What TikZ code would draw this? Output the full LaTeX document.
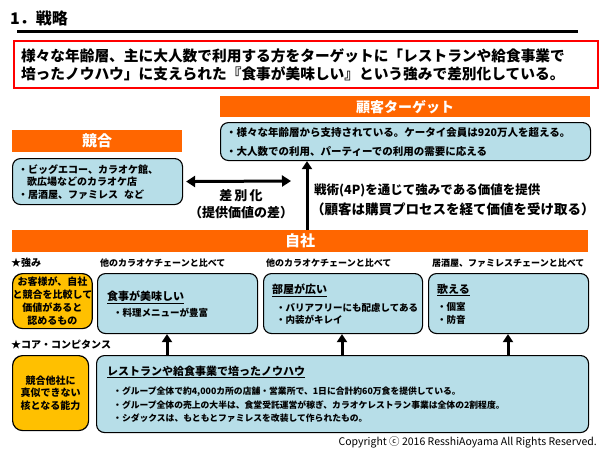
\documentclass[tikz,border=0pt]{standalone}
\usepackage{fontspec}
\setmainfont{Noto Sans CJK JP}
\usetikzlibrary{positioning,arrows.meta}
\definecolor{barorange}{HTML}{FF6600}
\definecolor{boxblue}{HTML}{B7DEE8}
\definecolor{boxyellow}{HTML}{FFC000}
\newcommand{\fs}[2]{\fontsize{#1}{#2}\selectfont}

\begin{document}
\begin{tikzpicture}[x=1pt, y=-1pt,
  every node/.style={inner sep=0pt, text=black},
  bar/.style={fill=barorange, anchor=north west, text=white, font=\fs{15}{18}\bfseries},
  infobox/.style={draw, line width=1.1pt, fill=boxblue, rounded corners=8pt, anchor=north west},
  keybox/.style={draw, line width=1.2pt, fill=boxyellow, rounded corners=10pt, anchor=north west, minimum width=76, align=center},
  item/.style={anchor=west, font=\fs{9.5}{12}\bfseries},
  head/.style={anchor=west, font=\fs{11}{13}\bfseries},
  tag/.style={anchor=west, font=\fs{9}{11}\bfseries},
  upline/.style={line width=3pt, -{Triangle[length=8pt,width=10pt]}},
  bothline/.style={line width=3pt, {Triangle[length=9pt,width=11pt]}-{Triangle[length=9pt,width=11pt]}}
]
\useasboundingbox (0,0) rectangle (600,450);

\node[anchor=west, font=\fs{16}{18}\bfseries] (title) at (10,18) {1．戦略};
\draw[line width=3pt] (17,31) -- (578,31);

\node[draw=red, line width=2pt, anchor=north west, minimum height=47, text width=570, inner xsep=7, align=left, font=\fs{14.7}{18}\bfseries] (lead) at (13,40)
  {様々な年齢層、主に大人数で利用する方をターゲットに「レストランや給食事業で\\培ったノウハウ」に支えられた『食事が美味しい』という強みで差別化している。};

\node[bar, minimum width=370, minimum height=21, font=\fs{14}{16}\bfseries] (tgtbar) at (220,96) {顧客ターゲット};
\node[infobox, minimum width=370, minimum height=38] (tgt) at (220,122) {};
\node[item, font=\fs{10.5}{12}\bfseries] (tgt1) at (226,133) {・様々な年齢層から支持されている。ケータイ会員は920万人を超える。};
\node[item, font=\fs{10.5}{12}\bfseries] (tgt2) at (226,152) {・大人数での利用、パーティーでの利用の需要に応える};

\node[bar, minimum width=170, minimum height=22] (compbar) at (12,130) {競合};
\node[infobox, minimum width=170, minimum height=46] (comp) at (12,158) {};
\node[item, font=\fs{10}{12}\bfseries] (comp1) at (18,170) {・ビッグエコー、カラオケ館、};
\node[item, font=\fs{10}{12}\bfseries] (comp2) at (27,182) {歌広場などのカラオケ店};
\node[item, font=\fs{10}{12}\bfseries] (comp3) at (18,195) {・居酒屋、ファミレス\hspace{0.6em}など};

\coordinate (diffR) at (291,181);
\draw[bothline] ([xshift=3pt]comp.east) -- (diffR);
\node[font=\fs{13}{15}\bfseries] (diff1) at (241,196) {差\,別\,化};
\node[font=\fs{13}{15}\bfseries] (diff2) at (241,213) {（提供価値の差）};

\node[bar, minimum width=576, minimum height=22] (jisha) at (12,230) {自社};

\coordinate (tac) at (307,0);
\draw[upline] (jisha.north -| tac) -- (tgt.south -| tac);
\node[anchor=west, font=\fs{12.5}{15}\bfseries] (tac1) at (314,190) {戦術(4P)を通じて強みである価値を提供};
\node[anchor=west, font=\fs{13.5}{15}\bfseries] (tac2) at (311,209) {（顧客は購買プロセスを経て価値を受け取る）};

\node[anchor=west, font=\fs{10}{12}\bfseries] (strtag) at (11,263) {★強み};
\node[keybox, minimum height=55, font=\fs{10}{13}\bfseries] (str) at (12,273) {お客様が、自社\\と競合を比較して\\価値があると\\認めるもの};

\node[tag] (s1tag) at (100,263) {他のカラオケチェーンと比べて};
\node[tag] (s2tag) at (266,263) {他のカラオケチェーンと比べて};
\node[tag] (s3tag) at (432,263) {居酒屋、ファミレスチェーンと比べて};

\node[infobox, minimum width=160, minimum height=60] (s1) at (97,273) {};
\node[infobox, minimum width=159, minimum height=60] (s2) at (263,273) {};
\node[infobox, minimum width=160, minimum height=60] (s3) at (428,273) {};

\node[head] (s1head) at (107,297) {\underline{食事が美味しい}};
\node[item] (s1a) at (113,313) {・料理メニューが豊富};
\node[head] (s2head) at (272,290) {\underline{部屋が広い}};
\node[item] (s2a) at (276,308) {・バリアフリーにも配慮してある};
\node[item] (s2b) at (276,320) {・内装がキレイ};
\node[head] (s3head) at (437,290) {\underline{歌える}};
\node[item] (s3a) at (437,307) {・個室};
\node[item] (s3b) at (437,320) {・防音};

\node[anchor=west, font=\fs{10}{12}\bfseries] (cctag) at (11,345) {★コア・コンピタンス};
\node[keybox, minimum height=75, font=\fs{10}{12.5}\bfseries] (cc) at (12,355) {競合他社に\\真似できない\\核となる能力};

\node[infobox, minimum width=492, minimum height=77] (core) at (96,355) {};
\node[head] (corehead) at (107,372) {\underline{レストランや給食事業で培ったノウハウ}};
\node[item, font=\fs{8.8}{11}\bfseries] (core1) at (113,392) {・グループ全体で約4,000カ所の店舗・営業所で、1日に合計約60万食を提供している。};
\node[item, font=\fs{8.8}{11}\bfseries] (core2) at (113,405) {・グループ全体の売上の大半は、食堂受託運営が稼ぎ、カラオケレストラン事業は全体の2割程度。};
\node[item, font=\fs{8.8}{11}\bfseries] (core3) at (113,418) {・シダックスは、もともとファミレスを改装して作られたもの。};

\foreach \b/\x in {s1/167, s2/342, s3/508} {
  \coordinate (up\b) at (\x,0);
  \draw[upline] (core.north -| up\b) -- (\b.south -| up\b);
}

\node[anchor=east, font=\fs{10.5}{12}] (copy) at (597,442) {Copyright ⓒ 2016 ResshiAoyama All Rights Reserved.};
\end{tikzpicture}
\end{document}
